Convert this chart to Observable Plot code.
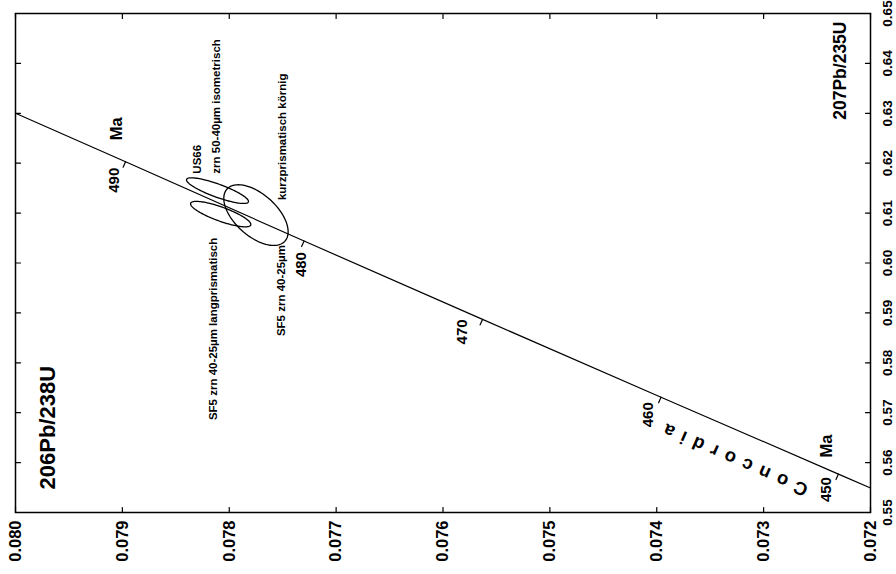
<!DOCTYPE html>
<html>
<head>
<meta charset="utf-8">
<script src="https://cdn.jsdelivr.net/npm/d3@7"></script>
<script src="https://cdn.jsdelivr.net/npm/@observablehq/plot@0.6"></script>
<style>
html, body { margin: 0; padding: 0; background: #fff; }
#chart { width: 896px; height: 574px; overflow: hidden; }
</style>
</head>
<body>
<div id="chart"></div>
<script>
// ---- Axis ticks ----
const ticks206 = [0.080, 0.079, 0.078, 0.077, 0.076, 0.075, 0.074, 0.073, 0.072];
const ticks206Labels = ["0.080", "0.079", "0.078", "0.077", "0.076", "0.075", "0.074", "0.073", "0.072"];
const ticks207 = [0.55, 0.56, 0.57, 0.58, 0.59, 0.60, 0.61, 0.62, 0.63, 0.64, 0.65];
const ticks207Labels = ["0.55", "0.56", "0.57", "0.58", "0.59", "0.60", "0.61", "0.62", "0.63", "0.64", "0.65"];

// ---- Concordia ----
const concordiaR206 = [0.07200, 0.07230, 0.07396, 0.07563, 0.07730, 0.07897, 0.08000];
const concordiaR207 = [0.5549, 0.5577, 0.5731, 0.5887, 0.6044, 0.6203, 0.6300];
const concordiaAge  = [null, 450, 460, 470, 480, 490, null];

// ---- Zircon fractions (error ellipses) ----
const sampleNames = ["US66 zrn 50-40µm isometrisch", "SF5 zrn 40-25µm langprismatisch", "SF5 zrn 40-25µm kurzprismatisch körnig"];
const r206    = [0.07811, 0.07808, 0.07775];
const r206Err = [0.000290, 0.000282, 0.000301];
const r207    = [0.6145, 0.6098, 0.6096];
const r207Err = [0.00257, 0.00255, 0.00608];
const rho     = [0.84, 0.81, 0.55];

const SANS = '"Liberation Sans", Arial, Helvetica, sans-serif';

// ellipse outlines built from centre, half-widths and correlation
const ellipsePts = [];
sampleNames.forEach((name, i) => {
  const n = 120;
  for (let k = 0; k < n; k++) {
    const t = 2 * Math.PI * k / n;
    ellipsePts.push({
      id: name,
      x: r206[i] + r206Err[i] * Math.cos(t),
      y: r207[i] + r207Err[i] * (rho[i] * Math.cos(t) + Math.sqrt(1 - rho[i] * rho[i]) * Math.sin(t))
    });
  }
});

const concordia = concordiaR206.map((x, i) => ({x, y: concordiaR207[i], age: concordiaAge[i]}));
const agePts = concordia.filter(d => d.age != null);

const tickShape = { draw(context, l) { context.moveTo(0, 0); context.lineTo(0, -l); } };

const ageOffsets = { 450: [-12, 3], 460: [-13, 5], 470: [-20, 0], 480: [-3, 11], 490: [-11, 6] };
const lbl = {fontWeight: "bold", fontFamily: SANS, fill: "black", lineAnchor: "middle"};

const marks = [
  Plot.frame({stroke: "black", strokeWidth: 1.5}),
  // frame ticks
  Plot.vector(ticks206, {x: d => d, frameAnchor: "bottom", length: 5, rotate: 0, anchor: "start", shape: tickShape, stroke: "black", strokeWidth: 1.2}),
  Plot.vector(ticks206, {x: d => d, frameAnchor: "top", length: 5, rotate: 180, anchor: "start", shape: tickShape, stroke: "black", strokeWidth: 1.2}),
  Plot.vector(ticks207, {y: d => d, frameAnchor: "left", length: 5, rotate: 90, anchor: "start", shape: tickShape, stroke: "black", strokeWidth: 1.2}),
  Plot.vector(ticks207, {y: d => d, frameAnchor: "right", length: 5, rotate: 270, anchor: "start", shape: tickShape, stroke: "black", strokeWidth: 1.2}),
  // tick labels
  Plot.text(ticks206, {...lbl, x: d => d, frameAnchor: "bottom", text: (d, i) => ticks206Labels[i], rotate: -90, textAnchor: "end", dy: 8, fontSize: 16.5}),
  Plot.text(ticks207, {...lbl, y: d => d, frameAnchor: "right", text: (d, i) => ticks207Labels[i], rotate: -90, textAnchor: "middle", dx: 17, fontSize: 13.5}),
  // axis titles
  Plot.text(["206Pb/238U"], {...lbl, frameAnchor: "bottom-left", text: d => d, rotate: -90, textAnchor: "start", dx: 32, dy: -23, fontSize: 22}),
  Plot.text(["207Pb/235U"], {...lbl, frameAnchor: "top-right", text: d => d, rotate: -90, textAnchor: "end", dx: -30, dy: 8, fontSize: 17.5}),
  // concordia
  Plot.line(concordia, {x: "x", y: "y", stroke: "black", strokeWidth: 1.2}),
  Plot.vector(agePts, {x: "x", y: "y", length: 6, rotate: 204, anchor: "start", shape: tickShape, stroke: "black", strokeWidth: 1.2}),
  ...agePts.map(d => Plot.text([d], {...lbl, x: "x", y: "y", text: d => String(d.age), rotate: -90, textAnchor: "end", dx: ageOffsets[d.age][0], dy: ageOffsets[d.age][1], fontSize: 15})),
  Plot.text(agePts.filter(d => d.age === 490), {...lbl, x: "x", y: "y", text: () => "Ma", rotate: -90, textAnchor: "middle", dx: -9, dy: -33, fontSize: 16.5}),
  Plot.text(agePts.filter(d => d.age === 450), {...lbl, x: "x", y: "y", text: () => "Ma", rotate: -90, textAnchor: "middle", dx: -12, dy: -28, fontSize: 16.5}),
  Plot.text(agePts.filter(d => d.age === 460), {...lbl, x: "x", y: "y", text: () => "Concordia", rotate: 203.6, textAnchor: "middle", dx: 71, dy: 61, fontSize: 18.5}),
  // ellipses
  Plot.line(ellipsePts, {x: "x", y: "y", z: "id", stroke: "black", strokeWidth: 1.3, curve: "linear-closed"}),
  // sample labels
  Plot.text([0], {...lbl, x: () => r206[0], y: () => r207[0], text: () => "US66", rotate: -90, textAnchor: "start", dx: -20, dy: -17, fontSize: 11.5}),
  Plot.text([0], {...lbl, x: () => r206[0], y: () => r207[0], text: () => "zrn 50-40µm isometrisch", rotate: -90, textAnchor: "start", dx: -1, dy: -17, fontSize: 11.5}),
  Plot.text([1], {...lbl, x: () => r206[1], y: () => r207[1], text: () => "SF5 zrn 40-25µm langprismatisch", rotate: -90, textAnchor: "start", dx: -7, dy: 206, fontSize: 11.5}),
  Plot.text([2], {...lbl, x: () => r206[2], y: () => r207[2], text: () => "kurzprismatisch körnig", rotate: -90, textAnchor: "start", dx: 26, dy: -15, fontSize: 11.5}),
  Plot.text([2], {...lbl, x: () => r206[2], y: () => r207[2], text: () => "SF5 zrn 40-25µm", rotate: -90, textAnchor: "end", dx: 25, dy: 30, fontSize: 11.5})
];

const plot = Plot.plot({
  width: 896,
  height: 574,
  marginLeft: 15,
  marginRight: 26,
  marginTop: 13,
  marginBottom: 62,
  x: {domain: [0.080, 0.072], axis: null},
  y: {domain: [0.55, 0.65], axis: null},
  style: {background: "white", color: "black", fontFamily: SANS, overflow: "visible"},
  marks
});
plot.querySelectorAll("text").forEach(t => {
  if (t.textContent === "Concordia") t.setAttribute("letter-spacing", "8");
});
document.getElementById("chart").appendChild(plot);
</script>
</body>
</html>
